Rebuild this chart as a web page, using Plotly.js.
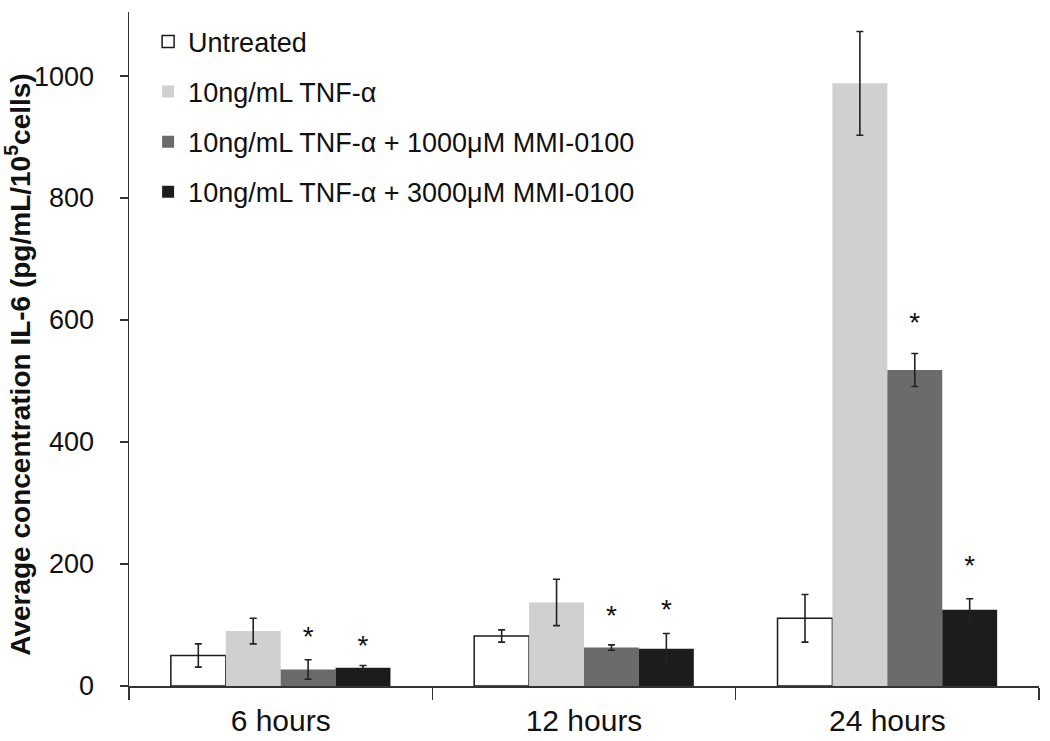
<!DOCTYPE html>
<html>
<head>
<meta charset="utf-8">
<script src="https://cdn.plot.ly/plotly-3.0.1.min.js"></script>
<style>html,body{margin:0;padding:0;background:#fff}#chart{width:1050px;height:741px}</style>
</head>
<body>
<div id="chart"></div>
<script>
// ---- data ----
const categories = ["6 hours", "12 hours", "24 hours"];
const seriesNames = [
  "Untreated",
  "10ng/mL TNF-α",
  "10ng/mL TNF-α + 1000μM MMI-0100",
  "10ng/mL TNF-α + 3000μM MMI-0100"
];
const untreated = [50, 82, 111];
const untreatedErr = [19, 10, 39];
const tnf = [90, 137, 988];
const tnfErr = [21, 38, 85];
const mmi1000 = [27, 63, 518];
const mmi1000Err = [16, 4.5, 27];
const mmi3000 = [30, 61, 125];
const mmi3000Err = [3.5, 25, 18];
// significance markers: asterisk height (value units)
const starLevel1000 = [77, 112, 592];
const starLevel3000 = [62, 122, 194];
const starText = ["*", "*", "*"];

const colors = ["#ffffff", "#d0d0d0", "#6b6b6b", "#1c1c1c"];
const values = [untreated, tnf, mmi1000, mmi3000];
const errs = [untreatedErr, tnfErr, mmi1000Err, mmi3000Err];

const traces = [];
values.forEach((v, i) => {
  traces.push({
    type: "bar",
    name: seriesNames[i],
    x: categories,
    y: v,
    offsetgroup: "g" + i,
    legendgroup: "g" + i,
    marker: {
      color: colors[i],
      line: { color: i === 0 ? "#1a1a1a" : colors[i], width: i === 0 ? 1.5 : 0 }
    },
    error_y: { type: "data", array: errs[i], visible: true, color: "#222222", thickness: 1.6, width: 3.5 },
    hoverinfo: "skip"
  });
});

const starLevels = [null, null, starLevel1000, starLevel3000];
starLevels.forEach((lv, i) => {
  traces.push({
    type: "scatter",
    mode: "text",
    x: categories,
    y: lv ? lv : values[i],
    text: lv ? starText : ["", "", ""],
    offsetgroup: "g" + i,
    textposition: "middle center",
    textfont: { family: "Liberation Sans, Arial, sans-serif", size: 28, color: "#111" },
    showlegend: false,
    hoverinfo: "skip",
    cliponaxis: false
  });
});

const layout = {
  width: 1050,
  height: 741,
  margin: { l: 129, r: 11, t: 12, b: 55 },
  paper_bgcolor: "#ffffff",
  plot_bgcolor: "#ffffff",
  barmode: "group",
  bargap: 0.276,
  bargroupgap: 0,
  scattermode: "group",
  scattergap: 0.276,
  showlegend: true,
  legend: {
    x: 0.021, y: 0.992, xanchor: "left", yanchor: "top",
    bgcolor: "rgba(0,0,0,0)",
    font: { family: "Liberation Sans, Arial, sans-serif", size: 27, color: "#111" },
    traceorder: "grouped",
    tracegroupgap: 12,
    itemwidth: 30
  },
  xaxis: {
    type: "category",
    showgrid: false,
    showline: true,
    linecolor: "#333",
    linewidth: 2,
    ticks: "outside",
    tickson: "boundaries",
    ticklen: 12,
    tickcolor: "#333",
    tickwidth: 1.5,
    ticklabelstandoff: 7,
    tickfont: { family: "Liberation Sans, Arial, sans-serif", size: 30, color: "#111" },
    zeroline: false
  },
  yaxis: {
    range: [0, 1105],
    tickvals: [0, 200, 400, 600, 800, 1000],
    showgrid: false,
    showline: true,
    linecolor: "#333",
    linewidth: 1.5,
    ticks: "outside",
    ticklen: 8,
    tickcolor: "#333",
    tickwidth: 1.5,
    ticklabelstandoff: 20,
    zeroline: false,
    tickfont: { family: "Liberation Sans, Arial, sans-serif", size: 27, color: "#111" },
    title: {
      text: "<b>Average concentration IL-6 (pg/mL/10<sup>5</sup>cells)&nbsp;&nbsp;&nbsp;&nbsp;</b>",
      font: { family: "Liberation Sans, Arial, sans-serif", size: 28, color: "#111" },
      standoff: 5
    }
  }
};

Plotly.newPlot("chart", traces, layout, { displayModeBar: false, staticPlot: true });
</script>
</body>
</html>
